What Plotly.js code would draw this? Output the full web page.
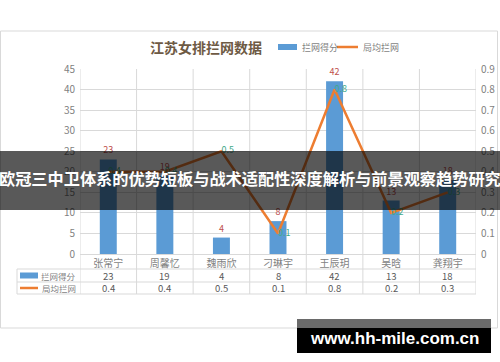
<!DOCTYPE html>
<html><head><meta charset="utf-8">
<script src="https://cdn.plot.ly/plotly-3.0.1.min.js"></script>
<style>html,body{margin:0;padding:0;background:#fff}#chart{width:500px;height:362px}</style>
</head><body><div id="chart"></div>
<script>
const categories = ['张常宁','周馨忆','魏雨欣','刁琳宇','王辰玥','吴晗','龚翔宇'];
const blockScores = [23, 19, 4, 8, 42, 13, 18];
const blockPerSet = [0.4, 0.4, 0.5, 0.1, 0.8, 0.2, 0.3];
const seriesNames = ['拦网得分', '局均拦网'];
const chartTitle = '江苏女排拦网数据';
const bannerText = '欧冠三中卫体系的优势短板与战术适配性深度解析与前景观察趋势研究';
const watermark = 'www.hh-mile.com.cn';

const W = 500, H = 362, L = 80, R = 476, T = 69, B = 254;
const X = px => (px - L) / (R - L);
const Y = py => (B - py) / (B - T);
const FONT = '"Noto Sans CJK SC", "Noto Sans", sans-serif';
const BLUE = '#5B9BD5', ORANGE = '#ED7D31', GRID = '#d9d9d9', TXT = '#7f7f7f';

const traces = [
  {type:'bar', x:categories, y:blockScores, name:seriesNames[0], marker:{color:BLUE}, width:0.3,
   text:blockScores.map(String), textposition:'outside', cliponaxis:false,
   textfont:{family:FONT, size:9, color:'#c0504d'}, hoverinfo:'none'},
  {type:'scatter', mode:'lines+text', x:categories, y:blockPerSet, yaxis:'y2', name:seriesNames[1],
   line:{color:ORANGE, width:2.5}, text:blockPerSet.map(String), textposition:'middle right', cliponaxis:false,
   textfont:{family:FONT, size:9, color:'#3fa98a'}, hoverinfo:'none'}
];

const shapes = [];
const annotations = [];
// outer frame
shapes.push({type:'rect', xref:'paper', yref:'paper', x0:X(0.5), x1:X(497.5), y0:Y(328), y1:Y(31), line:{color:GRID, width:1}, layer:'below'});
// vertical grid lines extending through table
for (let i = 0; i <= categories.length; i++) {
  shapes.push({type:'line', xref:'x', yref:'paper', x0:i-0.5, x1:i-0.5, y0:Y(294), y1:1, line:{color:GRID, width:1}, layer:'below'});
}
// table lines
[269, 282, 294].forEach(py => shapes.push({type:'line', xref:'paper', yref:'paper', x0:X(17), x1:1, y0:Y(py), y1:Y(py), line:{color:GRID, width:1}, layer:'below'}));
shapes.push({type:'line', xref:'paper', yref:'paper', x0:X(17), x1:X(17), y0:Y(269), y1:Y(294), line:{color:GRID, width:1}, layer:'below'});
// table legend keys
shapes.push({type:'rect', xref:'paper', yref:'paper', x0:X(20), x1:X(38), y0:Y(278.5), y1:Y(272.5), fillcolor:BLUE, line:{width:0}});
shapes.push({type:'line', xref:'paper', yref:'paper', x0:X(20), x1:X(38), y0:Y(288), y1:Y(288), line:{color:ORANGE, width:2.5}});
annotations.push({xref:'paper', yref:'paper', x:X(78), y:Y(275.5), xanchor:'right', yanchor:'middle', showarrow:false, text:seriesNames[0], font:{family:FONT, size:8.5, color:TXT}});
annotations.push({xref:'paper', yref:'paper', x:X(78), y:Y(288), xanchor:'right', yanchor:'middle', showarrow:false, text:seriesNames[1], font:{family:FONT, size:8.5, color:TXT}});
// table values
categories.forEach((c, i) => {
  annotations.push({xref:'x', yref:'paper', x:c, y:Y(275.5), showarrow:false, yanchor:'middle', text:String(blockScores[i]), font:{family:FONT, size:9.5, color:'#595959'}});
  annotations.push({xref:'x', yref:'paper', x:c, y:Y(288), showarrow:false, yanchor:'middle', text:String(blockPerSet[i]), font:{family:FONT, size:9.5, color:'#595959'}});
});
// top legend
shapes.push({type:'rect', xref:'paper', yref:'paper', x0:X(278), x1:X(297), y0:Y(50), y1:Y(44), fillcolor:BLUE, line:{width:0}});
annotations.push({xref:'paper', yref:'paper', x:X(300), y:Y(47), xanchor:'left', yanchor:'middle', showarrow:false, text:seriesNames[0], font:{family:FONT, size:9, color:TXT}});
shapes.push({type:'line', xref:'paper', yref:'paper', x0:X(337), x1:X(358), y0:Y(47), y1:Y(47), line:{color:ORANGE, width:2.5}});
annotations.push({xref:'paper', yref:'paper', x:X(361), y:Y(47), xanchor:'left', yanchor:'middle', showarrow:false, text:seriesNames[1], font:{family:FONT, size:9, color:TXT}});
// title
annotations.push({xref:'paper', yref:'paper', x:X(206), y:Y(47), xanchor:'center', yanchor:'middle', showarrow:false, text:'<b>'+chartTitle+'</b>', font:{family:FONT, size:14, color:'#6e5a44'}});
// banner overlay
shapes.push({type:'rect', xref:'paper', yref:'paper', x0:X(0), x1:X(500), y0:Y(210), y1:Y(151), fillcolor:'rgba(0,0,0,0.65)', line:{width:0}, layer:'above'});
annotations.push({xref:'paper', yref:'paper', x:X(250), y:Y(178), xanchor:'center', yanchor:'middle', showarrow:false, text:'<b>'+bannerText+'</b>', font:{family:FONT, size:16.2, color:'#ffffff'}});
// watermark
shapes.push({type:'rect', xref:'paper', yref:'paper', x0:X(297), x1:X(491), y0:Y(328), y1:Y(319), fillcolor:'#6a6a6a', line:{width:0}, layer:'above'});
shapes.push({type:'rect', xref:'paper', yref:'paper', x0:X(297), x1:X(491), y0:Y(353), y1:Y(328), fillcolor:'#000000', line:{width:0}, layer:'above'});
annotations.push({xref:'paper', yref:'paper', x:X(394), y:Y(338), xanchor:'center', yanchor:'middle', showarrow:false, text:'<b>'+watermark+'</b>', font:{family:'"Liberation Sans", Arial, sans-serif', size:17, color:'#ffffff'}});

const layout = {
  width:W, height:H, margin:{l:L, r:W-R, t:T, b:H-B, pad:0},
  paper_bgcolor:'#ffffff', plot_bgcolor:'rgba(0,0,0,0)', showlegend:false,
  font:{family:FONT, size:10, color:TXT},
  xaxis:{type:'category', range:[-0.5, categories.length-0.5], showgrid:false, zeroline:false, showline:false, ticks:'',
         tickfont:{family:FONT, size:10, color:TXT}, ticklabelstandoff:2, fixedrange:true},
  yaxis:{range:[0,45], dtick:5, showgrid:true, gridcolor:GRID, gridwidth:1, zeroline:true, zerolinecolor:GRID, zerolinewidth:1, showline:false, ticks:'',
         tickfont:{family:FONT, size:10, color:TXT}, ticklabelstandoff:4, fixedrange:true},
  yaxis2:{range:[0,0.9], dtick:0.1, overlaying:'y', side:'right', showgrid:false, zeroline:false, showline:false, ticks:'',
          tickfont:{family:FONT, size:10, color:TXT}, ticklabelstandoff:4, fixedrange:true},
  shapes:shapes, annotations:annotations
};
Plotly.newPlot('chart', traces, layout, {staticPlot:true, displayModeBar:false});
</script></body></html>
